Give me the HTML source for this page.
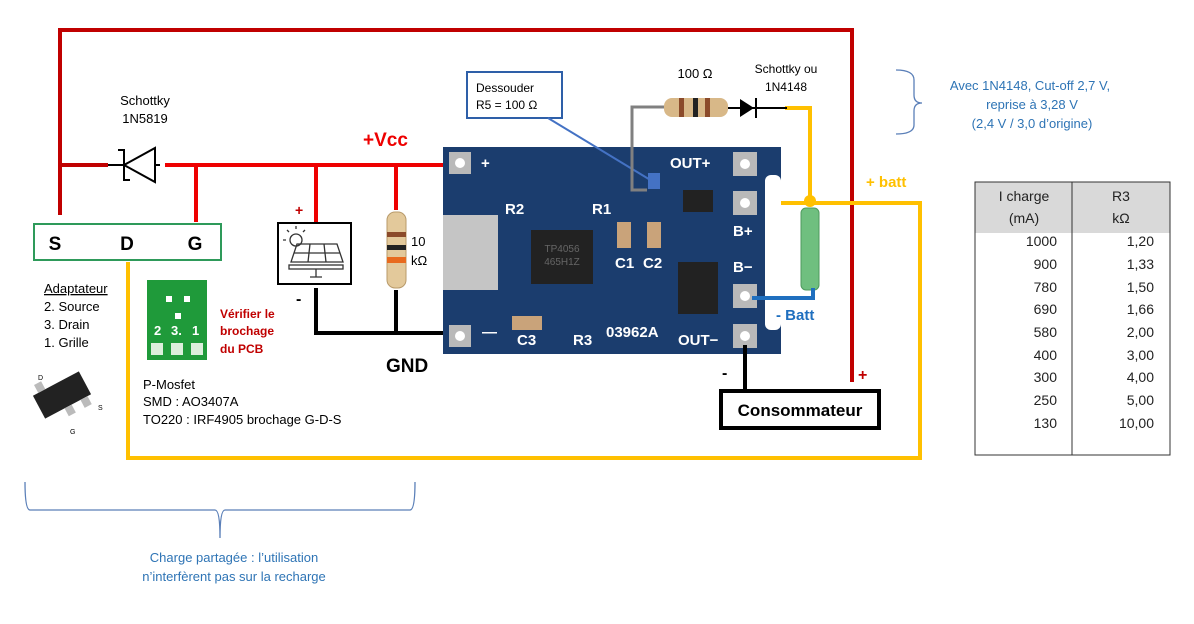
<!DOCTYPE html>
<html><head><meta charset="utf-8"><style>
html,body{margin:0;padding:0;background:#fff;}
svg{display:block;font-family:"Liberation Sans",sans-serif;}
</style></head><body>
<svg width="1194" height="624" viewBox="0 0 1194 624" xmlns="http://www.w3.org/2000/svg">
<rect width="1194" height="624" fill="#fff"/>
<polyline points="60,215 60,30 852,30 852,382" fill="none" stroke="#c00000" stroke-width="4"/>
<line x1="60" y1="165" x2="108" y2="165" stroke="#c00000" stroke-width="4"/>
<line x1="108" y1="165" x2="160" y2="165" stroke="#000" stroke-width="2"/>
<polygon points="155,148 155,182 124,165" fill="#fff" stroke="#000" stroke-width="2"/>
<polyline points="118,150 124,150 124,180 130,180" fill="none" stroke="#000" stroke-width="2"/>
<text x="145" y="105" font-size="13" text-anchor="middle">Schottky</text>
<text x="145" y="123" font-size="13" text-anchor="middle">1N5819</text>
<line x1="165" y1="165" x2="445" y2="165" stroke="#ee0000" stroke-width="4"/>
<line x1="196" y1="165" x2="196" y2="222" stroke="#ee0000" stroke-width="4"/>
<line x1="316" y1="165" x2="316" y2="222" stroke="#ee0000" stroke-width="4"/>
<line x1="396" y1="165" x2="396" y2="210" stroke="#ee0000" stroke-width="4"/>
<text x="363" y="146" font-size="19" font-weight="bold" fill="#ee0000">+Vcc</text>
<rect x="34" y="224" width="187" height="36" fill="#fff" stroke="#2e9a5a" stroke-width="2"/>
<text x="55" y="250" font-size="19" font-weight="bold" text-anchor="middle">S</text>
<text x="127" y="250" font-size="19" font-weight="bold" text-anchor="middle">D</text>
<text x="195" y="250" font-size="19" font-weight="bold" text-anchor="middle">G</text>
<polyline points="128,262 128,458 920,458 920,203 757,203" fill="none" stroke="#ffc000" stroke-width="4"/>
<polyline points="810,203 810,108 785,108" fill="none" stroke="#ffc000" stroke-width="4"/>
<circle cx="810" cy="201" r="6" fill="#ffc000"/>
<text x="44" y="293" font-size="13" text-decoration="underline">Adaptateur</text>
<text x="44" y="311" font-size="13">2. Source</text>
<text x="44" y="329" font-size="13">3. Drain</text>
<text x="44" y="347" font-size="13">1. Grille</text>
<g transform="translate(62,395) rotate(-28)">
<rect x="-26" y="-13" width="52" height="26" fill="#222"/>
<rect x="-20" y="-22" width="8" height="9" fill="#bbb"/><rect x="14" y="13" width="8" height="9" fill="#bbb"/><rect x="-4" y="13" width="8" height="9" fill="#bbb"/>
</g>
<text x="38" y="380" font-size="7">D</text><text x="98" y="410" font-size="7">S</text><text x="70" y="434" font-size="7">G</text>
<rect x="147" y="280" width="60" height="80" fill="#1f9a3a"/>
<text x="154" y="335" font-size="13" font-weight="bold" fill="#fff">2</text>
<text x="171" y="335" font-size="13" font-weight="bold" fill="#fff">3.</text>
<text x="192" y="335" font-size="13" font-weight="bold" fill="#fff">1</text>
<rect x="151" y="343" width="12" height="12" fill="#dcefdc"/><rect x="171" y="343" width="12" height="12" fill="#dcefdc"/><rect x="191" y="343" width="12" height="12" fill="#dcefdc"/>
<rect x="166" y="296" width="6" height="6" fill="#fff"/><rect x="184" y="296" width="6" height="6" fill="#fff"/><rect x="175" y="313" width="6" height="6" fill="#fff"/>
<text x="220" y="318" font-size="12" font-weight="bold" fill="#c00000">Vérifier le</text>
<text x="220" y="335" font-size="12" font-weight="bold" fill="#c00000">brochage</text>
<text x="220" y="353" font-size="12" font-weight="bold" fill="#c00000">du PCB</text>
<text x="143" y="389" font-size="13">P-Mosfet</text>
<text x="143" y="406" font-size="13">SMD : AO3407A</text>
<text x="143" y="424" font-size="13">TO220 :  IRF4905 brochage G-D-S</text>
<rect x="278" y="223" width="73" height="61" fill="#fff" stroke="#000" stroke-width="2"/>
<g stroke="#333" stroke-width="1.3" fill="none">
<circle cx="296" cy="240" r="6"/>
<path d="M296,229v-3M286,240h-3M289,232l-2,-2M303,232l2,-2"/>
<path d="M297,244 L337,244 L343,262 L291,262 Z M294,253 H340 M310,244 L308,262 M324,244 L326,262"/>
<rect x="289" y="265" width="54" height="4"/>
<path d="M316,269v8M310,277h12"/>
</g>
<text x="295" y="215" font-size="14" font-weight="bold" fill="#c00000">+</text>
<text x="296" y="304" font-size="16" font-weight="bold">-</text>
<rect x="387" y="212" width="19" height="76" rx="8" fill="#e3c99b" stroke="#b89a6a"/>
<rect x="387" y="232" width="19" height="5" fill="#8b4a2a"/>
<rect x="387" y="245" width="19" height="5" fill="#222"/>
<rect x="387" y="257" width="19" height="6" fill="#e86a1e"/>
<text x="411" y="246" font-size="13">10</text>
<text x="411" y="265" font-size="13">kΩ</text>
<polyline points="316,288 316,333 445,333" fill="none" stroke="#000" stroke-width="4"/>
<line x1="396" y1="290" x2="396" y2="333" stroke="#000" stroke-width="4"/>
<text x="386" y="372" font-size="19" font-weight="bold">GND</text>
<rect x="443" y="147" width="338" height="207" fill="#1b3d6e"/>
<rect x="765" y="175" width="16" height="155" rx="6" fill="#fff"/>
<rect x="443" y="215" width="55" height="75" fill="#c5c5c5"/>
<rect x="531" y="230" width="62" height="54" fill="#222"/>
<text x="562" y="252" font-size="10" fill="#666" text-anchor="middle">TP4056</text>
<text x="562" y="265" font-size="10" fill="#666" text-anchor="middle">465H1Z</text>
<rect x="678" y="262" width="40" height="52" fill="#222"/>
<rect x="683" y="190" width="30" height="22" fill="#222"/>
<rect x="617" y="222" width="14" height="26" fill="#c9a37a"/><rect x="647" y="222" width="14" height="26" fill="#c9a37a"/>
<rect x="512" y="316" width="30" height="14" fill="#c9a37a"/>
<g fill="#b9b9b9">
<rect x="449" y="152" width="22" height="22"/><rect x="449" y="325" width="22" height="22"/>
<rect x="733" y="152" width="24" height="24"/><rect x="733" y="191" width="24" height="24"/>
<rect x="733" y="284" width="24" height="24"/><rect x="733" y="324" width="24" height="24"/>
</g>
<g fill="#fff"><circle cx="460" cy="163" r="5"/><circle cx="460" cy="336" r="5"/><circle cx="745" cy="164" r="5"/><circle cx="745" cy="203" r="5"/><circle cx="745" cy="296" r="5"/><circle cx="745" cy="336" r="5"/></g>
<g fill="#fff" font-weight="bold" font-size="15">
<text x="481" y="168">+</text><text x="482" y="337">—</text>
<text x="670" y="168">OUT+</text><text x="733" y="236">B+</text><text x="733" y="272">B−</text>
<text x="678" y="345">OUT−</text><text x="606" y="337">03962A</text>
<text x="505" y="214">R2</text><text x="592" y="214">R1</text><text x="615" y="268">C1</text><text x="643" y="268">C2</text>
<text x="517" y="345">C3</text><text x="573" y="345">R3</text>
</g>
<rect x="648" y="173" width="12" height="16" fill="#4472c4"/>
<rect x="467" y="72" width="95" height="46" fill="#fff" stroke="#2e5fa8" stroke-width="2"/>
<text x="476" y="92" font-size="12">Dessouder</text>
<text x="476" y="109" font-size="12">R5 = 100 Ω</text>
<line x1="548" y1="118" x2="652" y2="181" stroke="#4472c4" stroke-width="2"/>
<polyline points="647,190 632,190 632,107 665,107" fill="none" stroke="#808080" stroke-width="3"/>
<rect x="664" y="98" width="64" height="19" rx="8" fill="#d8b888"/>
<rect x="679" y="98" width="5" height="19" fill="#8b4a2a"/><rect x="693" y="98" width="5" height="19" fill="#222"/><rect x="705" y="98" width="5" height="19" fill="#8b4a2a"/>
<text x="695" y="78" font-size="13" text-anchor="middle">100 Ω</text>
<line x1="728" y1="108" x2="787" y2="108" stroke="#000" stroke-width="2"/>
<polygon points="740,99 740,117 754,108" fill="#000"/>
<line x1="756" y1="98" x2="756" y2="118" stroke="#000" stroke-width="2"/>
<text x="786" y="73" font-size="12" text-anchor="middle">Schottky ou</text>
<text x="786" y="91" font-size="12" text-anchor="middle">1N4148</text>
<rect x="801" y="208" width="18" height="82" rx="5" fill="#6fbf7f" stroke="#4e9a5e"/>
<polyline points="813,288 813,298 752,298" fill="none" stroke="#1f6fbf" stroke-width="4"/>
<text x="776" y="320" font-size="15" font-weight="bold" fill="#1f6fbf">- Batt</text>
<text x="866" y="187" font-size="15" font-weight="bold" fill="#ffc000">+ batt</text>
<line x1="745" y1="345" x2="745" y2="392" stroke="#000" stroke-width="4"/>
<rect x="721" y="391" width="158" height="37" fill="#fff" stroke="#000" stroke-width="4"/>
<text x="800" y="416" font-size="17" font-weight="bold" text-anchor="middle">Consommateur</text>
<text x="722" y="378" font-size="16" font-weight="bold">-</text>
<text x="858" y="380" font-size="16" font-weight="bold" fill="#c00000">+</text>
<path d="M896,70 Q914,70 914,80 L914,95 Q914,103 922,103 Q914,103 914,111 L914,125 Q914,134 896,134" fill="none" stroke="#5a7fb8" stroke-width="1.3"/>
<g fill="#2e74b5" font-size="13" text-anchor="middle">
<text x="1030" y="90">Avec 1N4148, Cut-off 2,7 V,</text>
<text x="1032" y="109">reprise à 3,28 V</text>
<text x="1032" y="128">(2,4 V / 3,0 d’origine)</text>
</g>
<rect x="975" y="182" width="195" height="51" fill="#d9d9d9"/>
<rect x="975" y="182" width="195" height="273" fill="none" stroke="#333" stroke-width="1"/>
<line x1="1072" y1="182" x2="1072" y2="455" stroke="#333"/>
<g font-size="14" fill="#222">
<text x="1024" y="201" text-anchor="middle">I charge</text><text x="1024" y="223" text-anchor="middle">(mA)</text>
<text x="1121" y="201" text-anchor="middle">R3</text><text x="1121" y="223" text-anchor="middle">kΩ</text>
</g>
<g font-size="14" fill="#222" text-anchor="end">
<text x="1057" y="246">1000</text><text x="1154" y="246">1,20</text>
<text x="1057" y="269">900</text><text x="1154" y="269">1,33</text>
<text x="1057" y="292">780</text><text x="1154" y="292">1,50</text>
<text x="1057" y="314">690</text><text x="1154" y="314">1,66</text>
<text x="1057" y="337">580</text><text x="1154" y="337">2,00</text>
<text x="1057" y="360">400</text><text x="1154" y="360">3,00</text>
<text x="1057" y="382">300</text><text x="1154" y="382">4,00</text>
<text x="1057" y="405">250</text><text x="1154" y="405">5,00</text>
<text x="1057" y="428">130</text><text x="1154" y="428">10,00</text>
</g>
<path d="M25,482 Q25,510 30,510 L215,510 Q220,510 220,538 Q220,510 225,510 L410,510 Q415,510 415,482" fill="none" stroke="#5a7fb8" stroke-width="1.3"/>
<g fill="#2e74b5" font-size="13" text-anchor="middle">
<text x="234" y="562">Charge partagée : l’utilisation</text>
<text x="234" y="581">n’interfèrent pas sur la recharge</text>
</g>
</svg>
</body></html>
